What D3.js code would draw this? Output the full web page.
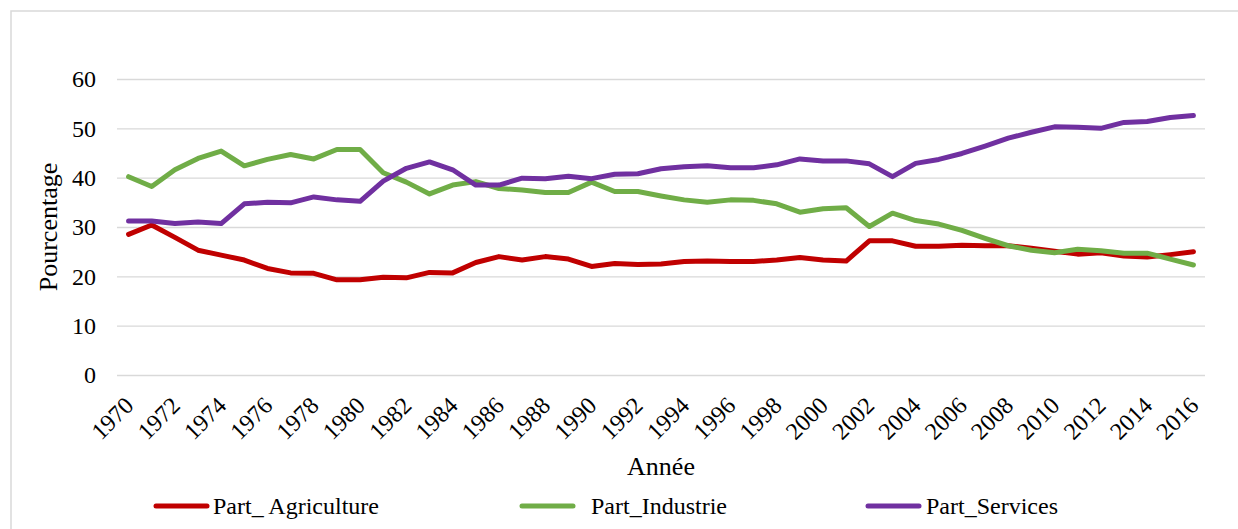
<!DOCTYPE html>
<html>
<head>
<meta charset="utf-8">
<script src="https://cdn.jsdelivr.net/npm/d3@7"></script>
</head>
<body style="margin:0;background:#fff">
<svg id="chart" width="1238" height="529" style="display:block"></svg>
<script>
// Parts sectorielles (%) par année
const years = [1970,1971,1972,1973,1974,1975,1976,1977,1978,1979,1980,1981,1982,1983,1984,1985,
  1986,1987,1988,1989,1990,1991,1992,1993,1994,1995,1996,1997,1998,1999,2000,
  2001,2002,2003,2004,2005,2006,2007,2008,2009,2010,2011,2012,2013,2014,2015,2016];

const partAgriculture = [28.5,30.4,27.9,25.3,24.3,23.3,21.6,20.7,20.6,19.3,19.3,19.8,19.7,20.8,20.7,22.8,
  24.0,23.3,24.0,23.5,22.0,22.6,22.4,22.5,23.0,23.1,23.0,23.0,23.3,23.8,23.3,
  23.1,27.2,27.2,26.1,26.1,26.3,26.2,26.2,25.7,25.1,24.5,24.8,24.1,23.9,24.4,25.0];

const partIndustrie = [40.2,38.2,41.6,43.9,45.4,42.4,43.7,44.7,43.8,45.7,45.7,41.0,39.1,36.7,38.5,39.2,
  37.8,37.5,37.0,37.0,39.1,37.2,37.2,36.3,35.5,35.0,35.5,35.4,34.7,33.0,33.7,
  33.9,30.1,32.8,31.3,30.6,29.3,27.7,26.2,25.3,24.8,25.5,25.2,24.7,24.7,23.5,22.3];

const partServices = [31.2,31.2,30.7,31.0,30.7,34.7,35.0,34.9,36.1,35.5,35.2,39.3,41.9,43.2,41.6,38.5,
  38.5,39.9,39.8,40.3,39.8,40.7,40.8,41.8,42.2,42.4,42.0,42.0,42.6,43.8,43.4,
  43.4,42.8,40.2,42.9,43.7,44.9,46.4,48.0,49.2,50.3,50.2,50.0,51.2,51.4,52.2,52.6];

const yTicks = [0, 10, 20, 30, 40, 50, 60];
const xTickLabels = years.filter((y, i) => i % 2 === 0);

const seriesNames = ["Part_ Agriculture", "Part_Industrie", "Part_Services"];
const seriesColors = ["#C00000", "#70AD47", "#7030A0"];
const seriesValues = [partAgriculture, partIndustrie, partServices];

const FONT = '"Liberation Serif"';

const svg = d3.select("#chart");
const plot = { left: 117, right: 1205, top: 79, bottom: 375 };

// Outer frame
svg.append("rect")
  .attr("x", 11).attr("y", 11)
  .attr("width", 1260).attr("height", 560)
  .attr("fill", "none").attr("stroke", "#d9d9d9").attr("stroke-width", 1.5);

const x = d3.scalePoint().domain(years).range([plot.left, plot.right]).padding(0.5);
const y = d3.scaleLinear().domain([0, 60]).range([plot.bottom, plot.top]);

// Horizontal gridlines + y labels
const yAxis = d3.axisLeft(y).tickValues(yTicks)
  .tickSize(-(plot.right - plot.left)).tickPadding(21);
const gy = svg.append("g").attr("transform", `translate(${plot.left},0)`).call(yAxis);
gy.select(".domain").remove();
gy.selectAll(".tick line").attr("stroke", "#d9d9d9").attr("stroke-width", 1.4);
gy.selectAll(".tick text")
  .style("font-family", FONT).style("font-size", "24px").attr("fill", "#000");

// X axis labels, rotated
const xAxis = d3.axisBottom(x).tickValues(xTickLabels).tickSize(0).tickPadding(0);
const gx = svg.append("g").attr("transform", `translate(0,${plot.bottom})`).call(xAxis);
gx.select(".domain").remove();
gx.selectAll(".tick text")
  .style("font-family", FONT).style("font-size", "24px").attr("fill", "#000")
  .attr("text-anchor", "end")
  .attr("dy", 0).attr("y", 0)
  .attr("transform", "translate(6,32) rotate(-45)");

// Axis titles
svg.append("text")
  .attr("transform", `translate(57,${(plot.top + plot.bottom) / 2}) rotate(-90)`)
  .attr("text-anchor", "middle")
  .style("font-family", FONT).style("font-size", "26px")
  .text("Pourcentage");

svg.append("text")
  .attr("x", (plot.left + plot.right) / 2).attr("y", 475)
  .attr("text-anchor", "middle")
  .style("font-family", FONT).style("font-size", "26px")
  .text("Année");

// Series lines
const line = d3.line()
  .x((d, i) => x(years[i]))
  .y(d => y(d));

seriesValues.forEach((vals, k) => {
  svg.append("path")
    .datum(vals)
    .attr("d", line)
    .attr("fill", "none")
    .attr("stroke", seriesColors[k])
    .attr("stroke-width", 5)
    .attr("stroke-linejoin", "round")
    .attr("stroke-linecap", "round");
});

// Legend: swatch start and label start for each entry
const legendX = [156, 522, 868];
const legendTextX = [213, 591, 926];
seriesNames.forEach((name, k) => {
  const g = svg.append("g").attr("transform", "translate(0,506)");
  g.append("line")
    .attr("x1", legendX[k]).attr("x2", legendX[k] + 51).attr("y1", 0).attr("y2", 0)
    .attr("stroke", seriesColors[k]).attr("stroke-width", 5)
    .attr("stroke-linecap", "round");
  g.append("text")
    .attr("x", legendTextX[k]).attr("y", 8)
    .style("font-family", FONT).style("font-size", "24px")
    .text(name);
});
</script>
</body>
</html>
